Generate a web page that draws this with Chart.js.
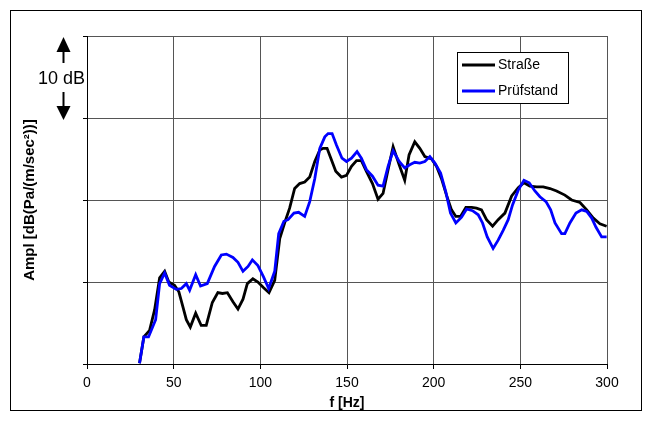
<!DOCTYPE html>
<html>
<head>
<meta charset="utf-8">
<title>Straße vs Prüfstand</title>
<script src="https://cdn.jsdelivr.net/npm/chart.js@4.4.1/dist/chart.umd.min.js"></script>
<style>
  html, body { margin: 0; padding: 0; background: #fff; }
  #wrap { width: 652px; height: 421px; }
</style>
</head>
<body>
<div id="wrap"><canvas id="ampl" width="652" height="421"></canvas></div>
<script>
// frequency axis ticks
const xTicks = [0, 50, 100, 150, 200, 250, 300];

// Straße (black)
const strasseF = [30.3, 32.8, 36.1, 39.0, 41.9, 44.8, 47.2, 50.5, 53.0, 55.3, 57.3, 59.6, 62.7, 65.9, 68.8, 72.3, 75.5, 78.1, 81.0, 84.2,
  87.1, 90.0, 92.5, 95.7, 98.6, 101.9, 105.0, 108.3, 111.2, 114.0, 116.9, 119.8, 122.7, 125.6, 128.5, 131.4, 134.3, 136.2, 138.5, 141.0,
  143.5, 146.8, 149.7, 152.6, 155.5, 158.3, 161.2, 164.7, 167.9, 170.8, 173.7, 176.6, 180.1, 183.3, 185.8, 189.1, 192.0, 194.9, 198.8, 201.7,
  204.5, 207.4, 210.3, 212.8, 215.5, 218.6, 221.9, 224.7, 227.6, 230.5, 234.0, 237.2, 241.1, 245.0, 248.8, 252.1, 255.5, 259.4, 263.2, 267.1,
  270.9, 275.7, 279.6, 284.4, 288.3, 292.1, 295.9, 299.8];
const strasseDb = [0.1, 3.3, 4.1, 6.6, 10.5, 11.3, 10.0, 9.6, 8.8, 7.0, 5.4, 4.5, 6.2, 4.7, 4.7, 7.5, 8.7, 8.6, 8.7, 7.6,
  6.7, 7.9, 9.8, 10.4, 10.0, 9.3, 8.7, 10.2, 15.3, 17.2, 19.0, 21.4, 22.0, 22.2, 22.8, 24.7, 26.1, 26.3, 26.3, 24.9,
  23.5, 22.8, 23.0, 24.1, 24.8, 24.8, 23.5, 22.0, 20.1, 20.8, 23.7, 26.5, 24.3, 22.4, 25.5, 27.1, 26.3, 25.3, 25.0, 24.1,
  22.6, 20.6, 18.8, 18.0, 18.0, 19.1, 19.1, 19.0, 18.8, 17.6, 16.8, 17.6, 18.4, 20.5, 21.5, 22.1, 21.7, 21.6, 21.6, 21.4,
  21.1, 20.6, 20.0, 19.7, 18.8, 17.8, 17.1, 16.8];

// Prüfstand (blue)
const pruefF = [30.3, 32.8, 35.5, 39.6, 41.9, 44.8, 47.6, 51.5, 54.4, 57.3, 59.2, 62.7, 65.5, 69.4, 73.6, 77.5, 80.4, 84.2, 87.1, 90.0,
  92.9, 95.4, 98.6, 101.9, 104.8, 108.3, 110.6, 113.6, 116.0, 119.4, 122.1, 125.6, 128.5, 131.4, 134.3, 137.2, 139.1, 141.4, 143.9, 147.1,
  149.7, 152.6, 155.8, 158.3, 161.2, 164.7, 167.9, 170.8, 173.7, 176.6, 180.1, 183.3, 186.2, 189.1, 192.0, 194.9, 197.8, 200.7, 204.0, 207.0,
  209.7, 212.8, 216.1, 219.0, 222.4, 225.7, 228.2, 230.9, 234.3, 237.2, 240.1, 243.0, 245.5, 248.8, 252.1, 255.1, 258.4, 261.3, 264.8, 267.5,
  270.0, 273.8, 275.7, 278.6, 282.1, 285.4, 288.3, 291.2, 293.6, 296.9, 299.8];
const pruefDb = [0.1, 3.3, 3.3, 5.4, 9.8, 11.1, 9.6, 9.1, 9.2, 9.8, 9.0, 10.9, 9.5, 9.8, 11.9, 13.3, 13.4, 13.0, 12.4, 11.3,
  11.9, 12.7, 12.0, 10.6, 9.2, 11.3, 15.9, 17.4, 17.6, 18.4, 18.5, 18.0, 19.8, 22.6, 26.3, 27.7, 28.1, 28.1, 26.7, 25.1,
  24.7, 25.1, 25.9, 25.1, 23.7, 22.9, 21.8, 21.7, 24.1, 26.0, 24.7, 23.9, 24.3, 24.6, 24.5, 24.7, 25.3, 24.5, 23.3, 21.0,
  18.4, 17.2, 17.9, 18.9, 18.7, 18.2, 17.2, 15.5, 14.1, 15.1, 16.3, 17.6, 19.4, 21.2, 22.4, 22.1, 21.1, 20.4, 19.8, 18.8,
  17.2, 15.9, 15.9, 17.2, 18.4, 18.8, 18.6, 17.8, 16.7, 15.5, 15.5];

const seriesNames = ['Straße', 'Prüfstand'];
const seriesColors = ['#000000', '#0000ff'];

Chart.defaults.font.family = '"Liberation Sans", Arial, sans-serif';
Chart.defaults.color = '#000';

// border, legend box and the "10 dB" marker
const extras = {
  id: 'extras',
  afterDraw(chart) {
    const ctx = chart.ctx;
    const y = chart.scales.y;
    ctx.save();

    // outer frame
    ctx.strokeStyle = '#000';
    ctx.lineWidth = 1;
    ctx.strokeRect(10.5, 10.5, 631, 400);

    // 10 dB arrows
    const ax = 63.5;
    const yTop = y.getPixelForValue(40);
    const yBot = y.getPixelForValue(30);
    ctx.fillStyle = '#000';
    ctx.lineWidth = 2;
    ctx.beginPath();
    ctx.moveTo(ax, yTop + 1);
    ctx.lineTo(ax - 7, yTop + 16);
    ctx.lineTo(ax + 7, yTop + 16);
    ctx.closePath();
    ctx.fill();
    ctx.beginPath();
    ctx.moveTo(ax, yTop + 15);
    ctx.lineTo(ax, yTop + 27);
    ctx.stroke();
    ctx.beginPath();
    ctx.moveTo(ax, yBot + 2);
    ctx.lineTo(ax - 7, yBot - 12);
    ctx.lineTo(ax + 7, yBot - 12);
    ctx.closePath();
    ctx.fill();
    ctx.beginPath();
    ctx.moveTo(ax, yBot - 11);
    ctx.lineTo(ax, yBot - 26);
    ctx.stroke();

    ctx.font = '18px "Liberation Sans", Arial, sans-serif';
    ctx.textAlign = 'center';
    ctx.textBaseline = 'middle';
    ctx.fillText('10 dB', 61.5, (yTop + yBot) / 2 + 2);

    // legend
    ctx.fillStyle = '#fff';
    ctx.fillRect(457.5, 52.5, 111, 51);
    ctx.strokeStyle = '#000';
    ctx.lineWidth = 1;
    ctx.strokeRect(457.5, 52.5, 111, 51);
    ctx.font = '14px "Liberation Sans", Arial, sans-serif';
    ctx.textAlign = 'left';
    seriesNames.forEach((name, i) => {
      const ly = 65 + i * 26;
      ctx.strokeStyle = seriesColors[i];
      ctx.lineWidth = 3;
      ctx.beginPath();
      ctx.moveTo(462, ly);
      ctx.lineTo(495, ly);
      ctx.stroke();
      ctx.fillStyle = '#000';
      ctx.fillText(name, 498, ly);
    });
    ctx.restore();
  }
};

const ctx = document.getElementById('ampl').getContext('2d');

new Chart(ctx, {
  type: 'line',
  data: {
    datasets: [
      {
        label: seriesNames[0],
        data: strasseF.map((f, i) => ({ x: f, y: strasseDb[i] })),
        borderColor: seriesColors[0],
        borderWidth: 2.8,
        pointRadius: 0,
        tension: 0,
        fill: false,
        order: 2,
      },
      {
        label: seriesNames[1],
        data: pruefF.map((f, i) => ({ x: f, y: pruefDb[i] })),
        borderColor: seriesColors[1],
        borderWidth: 2.8,
        pointRadius: 0,
        tension: 0,
        fill: false,
        order: 1,
      },
    ],
  },
  options: {
    responsive: false,
    animation: false,
    layout: { padding: { top: 36, right: 45, bottom: 0, left: 0 } },
    plugins: { legend: { display: false }, tooltip: { enabled: false } },
    scales: {
      x: {
        type: 'linear',
        min: 0,
        max: 300,
        afterBuildTicks: (s) => { s.ticks = xTicks.map((v) => ({ value: v })); },
        afterFit: (s) => { s.height = 57; },
        ticks: { font: { size: 14 }, padding: 6, maxRotation: 0 },
        grid: { color: '#555', tickLength: 5, tickColor: '#000' },
        border: { color: '#000', width: 1 },
        title: { display: true, text: 'f [Hz]', font: { size: 14, weight: 'bold' }, padding: { top: 0, bottom: 9 } },
      },
      y: {
        min: 0,
        max: 40,
        ticks: { stepSize: 10, display: false },
        afterFit: (s) => { s.width = 87; },
        grid: { color: '#555', tickLength: 4, tickColor: '#000' },
        border: { color: '#000', width: 1 },
        title: { display: true, text: 'Ampl [dB(Pa/(m/sec²))]', font: { size: 15, weight: 'bold' }, padding: { top: 21, bottom: 0 } },
      },
    },
  },
  plugins: [extras],
});
</script>
</body>
</html>
